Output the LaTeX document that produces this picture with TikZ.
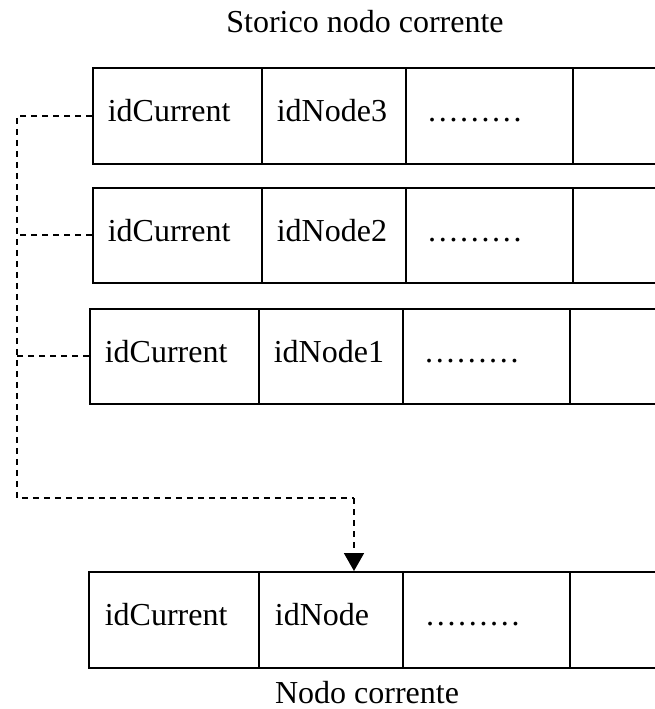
\documentclass[tikz,border=0pt]{standalone}
\usepackage{fontspec}
\setmainfont{Liberation Serif}
\usetikzlibrary{arrows.meta}
\begin{document}
\begin{tikzpicture}[x=1pt,y=-1pt,
  cellbox/.style={draw, line width=1.7pt, anchor=north west, inner ysep=0pt, align=left,
    text height=22pt, text depth=10pt, font=\fontsize{32}{38}\selectfont},
  dashline/.style={draw, line width=1.8pt, dash pattern=on 6pt off 5pt},
  caption/.style={anchor=base, inner sep=0pt, font=\fontsize{32}{38}\selectfont}]
\useasboundingbox (0,0) rectangle (655,709);

% Row 1 (idNode3)
\node[cellbox, minimum width=169pt, minimum height=96pt, text width=139pt, inner xsep=15pt] (r1a) at (92,67) {idCurrent};
\node[cellbox, minimum width=144pt, minimum height=96pt, text width=114pt, inner xsep=15pt] (r1b) at (261,67) {idNode3};
\node[cellbox, minimum width=167pt, minimum height=96pt, text width=125pt, inner xsep=21pt] (r1c) at (405,67) {………};
\node[cellbox, minimum width=93pt, minimum height=96pt, inner xsep=0pt] (r1d) at (572,67) {};

% Row 2 (idNode2)
\node[cellbox, minimum width=169pt, minimum height=95pt, text width=139pt, inner xsep=15pt] (r2a) at (92,187) {idCurrent};
\node[cellbox, minimum width=144pt, minimum height=95pt, text width=114pt, inner xsep=15pt] (r2b) at (261,187) {idNode2};
\node[cellbox, minimum width=167pt, minimum height=95pt, text width=125pt, inner xsep=21pt] (r2c) at (405,187) {………};
\node[cellbox, minimum width=93pt, minimum height=95pt, inner xsep=0pt] (r2d) at (572,187) {};

% Row 3 (idNode1)
\node[cellbox, minimum width=169pt, minimum height=95pt, text width=139pt, inner xsep=15pt] (r3a) at (89,308) {idCurrent};
\node[cellbox, minimum width=144pt, minimum height=95pt, text width=114pt, inner xsep=15pt] (r3b) at (258,308) {idNode1};
\node[cellbox, minimum width=167pt, minimum height=95pt, text width=125pt, inner xsep=21pt] (r3c) at (402,308) {………};
\node[cellbox, minimum width=96pt, minimum height=95pt, inner xsep=0pt] (r3d) at (569,308) {};

% Row 4 (current node)
\node[cellbox, minimum width=170pt, minimum height=96pt, text width=138pt, inner xsep=16pt] (r4a) at (88,571) {idCurrent};
\node[cellbox, minimum width=144pt, minimum height=96pt, text width=112pt, inner xsep=16pt] (r4b) at (258,571) {idNode};
\node[cellbox, minimum width=167pt, minimum height=96pt, text width=123pt, inner xsep=22pt] (r4c) at (402,571) {………};
\node[cellbox, minimum width=96pt, minimum height=96pt, inner xsep=0pt] (r4d) at (569,571) {};

% Captions
\node[caption] (top) at (365,33) {Storico nodo corrente};
\node[caption] (bot) at (367,703) {Nodo corrente};

% Dashed connectors
\coordinate (bend) at (17,498);
\coordinate (turn) at (354,498);
\draw[dashline] (r1a.west) -| (bend) -- (turn);
\draw[dashline, -{Triangle[width=20pt,length=18pt]}] (turn) -- (turn |- r4b.north);
\draw[dashline] (r2a.west) -- (r2a.west -| bend);
\draw[dashline] (r3a.west) -- (r3a.west -| bend);
\end{tikzpicture}
\end{document}
